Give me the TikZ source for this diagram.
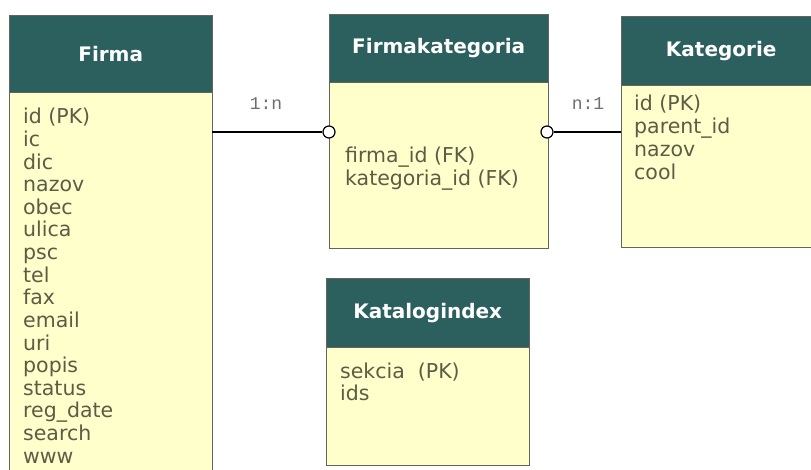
\documentclass[tikz,border=0pt]{standalone}
\usepackage{fontspec}
\setmainfont{DejaVu Sans}
\newfontfamily\relfont{Liberation Mono}
\usepackage{xcolor}
\usepackage{tikz}
\usetikzlibrary{positioning, calc}
\definecolor{headteal}{RGB}{44,96,94}
\definecolor{bodyyellow}{RGB}{255,255,204}
\definecolor{fieldgray}{RGB}{92,92,70}
\definecolor{edgegray}{RGB}{100,100,92}
\definecolor{relgray}{RGB}{110,110,110}

\tikzset{
  tablehead/.style={draw=edgegray, fill=headteal, text=white, anchor=north west,
    font=\fontsize{20}{22}\selectfont\bfseries, inner sep=0pt},
  tablebody/.style={draw=edgegray, fill=bodyyellow, anchor=north west, inner sep=0pt},
  field/.style={anchor=base west, text=fieldgray, inner sep=0pt,
    font=\fontsize{20.5}{22}\selectfont},
  rellabel/.style={text=relgray, font=\relfont\fontsize{18}{20}\selectfont},
  zeroend/.style={circle, draw=black, fill=white, line width=1.2pt,
    inner sep=0pt, minimum size=12pt}
}

\begin{document}
\begin{tikzpicture}[x=1pt, y=-1pt]
\useasboundingbox (0,0) rectangle (811,470);
\clip (0,0) rectangle (811,470);

% Tables
\node[tablehead, minimum width=203, minimum height=77] (firmahead) at (9,15) {Firma};
\node[tablebody, minimum width=203, minimum height=400] (firmabody) at (firmahead.south west) {};

\node[tablehead, minimum width=219, minimum height=68] (fkhead) at (329,14) {Firmakategoria};
\node[tablebody, minimum width=219, minimum height=166] (fkbody) at (fkhead.south west) {};

\node[tablehead, minimum width=200, minimum height=69] (kathead) at (621,16) {Kategorie};
\node[tablebody, minimum width=200, minimum height=162] (katbody) at (kathead.south west) {};

\node[tablehead, minimum width=203, minimum height=69] (kihead) at (326,278) {Katalogindex};
\node[tablebody, minimum width=203, minimum height=118] (kibody) at (kihead.south west) {};

% Fields
\foreach \f [count=\i from 0] in {id (PK), ic, dic, nazov, obec, ulica, psc, tel, fax,
    email, uri, popis, status, reg\_date, search, www} {
  \node[field] (firma-\i) at (23, 124+22.6*\i) {\f};
}
\foreach \f [count=\i from 0] in {firma\_id (FK), kategoria\_id (FK)} {
  \node[field] (fk-\i) at (345, 163+22.6*\i) {\f};
}
\foreach \f [count=\i from 0] in {id (PK), parent\_id, nazov, cool} {
  \node[field] (kat-\i) at (634, 111+23*\i) {\f};
}
\foreach \f [count=\i from 0] in {sekcia\ \ (PK), ids} {
  \node[field] (ki-\i) at (340, 378+22.6*\i) {\f};
}

% Relations
\node[zeroend] (firmaend) at (329,132) {};
\node[zeroend] (katend) at (547,132) {};
\draw[line width=1.2pt] (firmabody.east |- firmaend) -- (firmaend.west);
\draw[line width=1.2pt] (katend.east) -- (katend -| katbody.west);
\node[rellabel] (firmarel) at (266,104) {1:n};
\node[rellabel] (katrel) at (588,104) {n:1};
\end{tikzpicture}
\end{document}
